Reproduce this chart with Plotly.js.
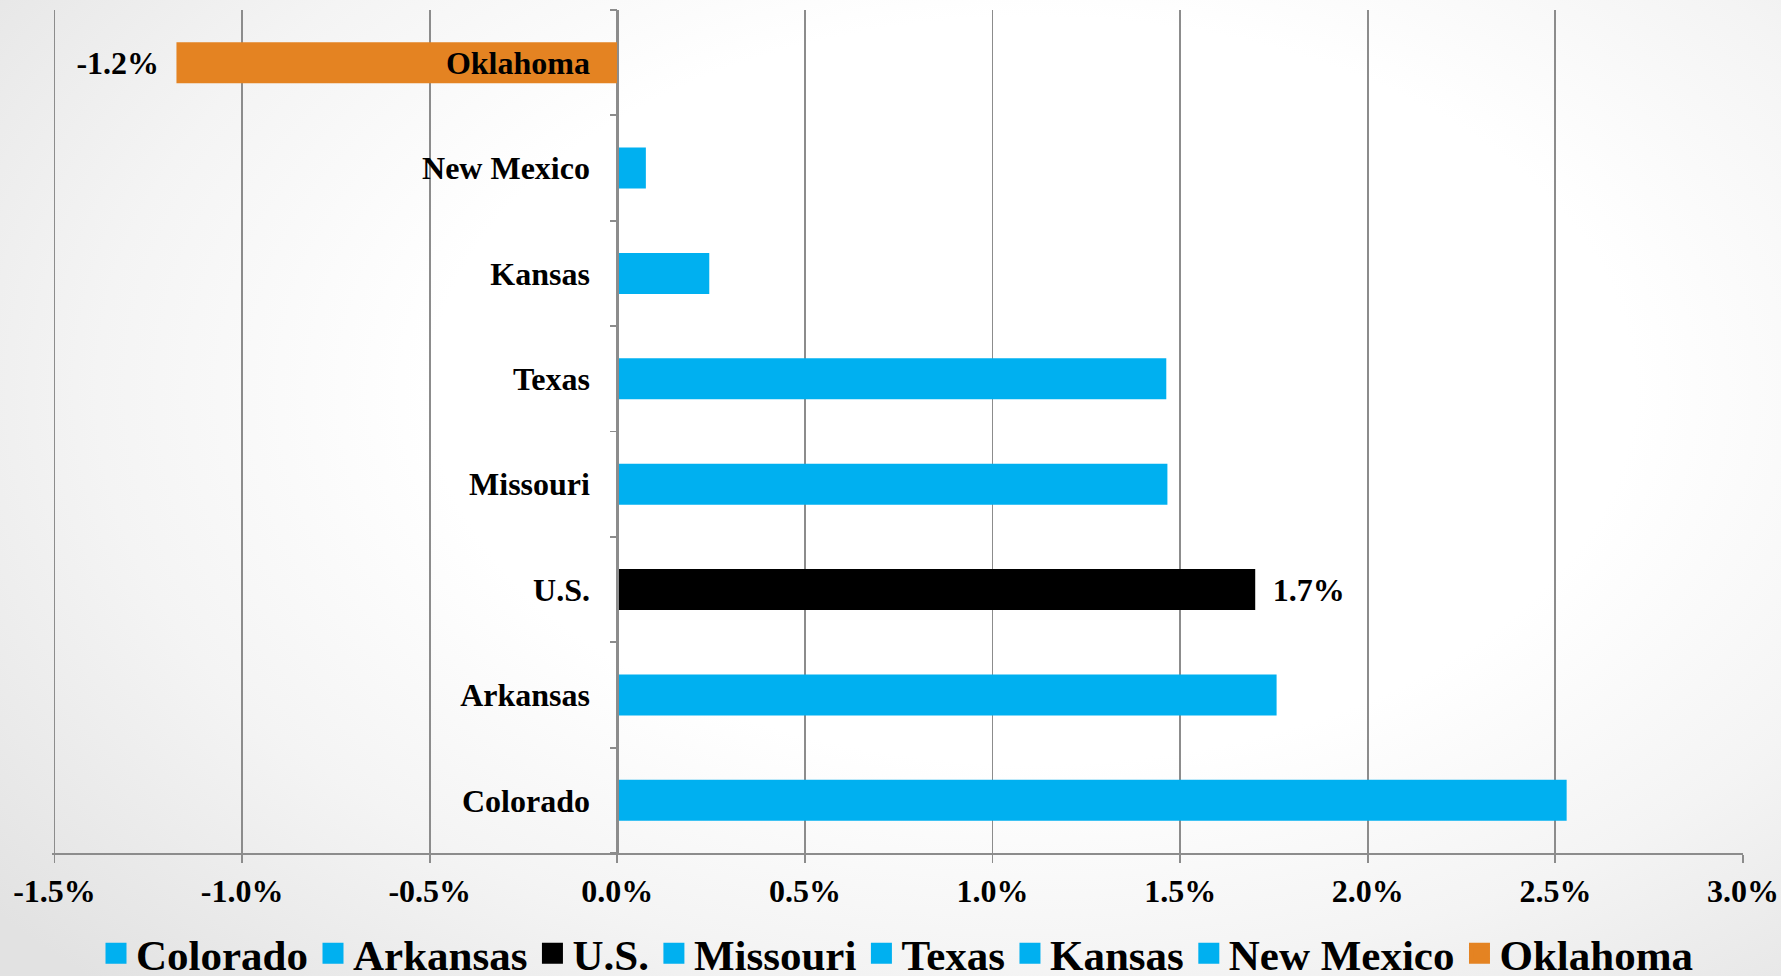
<!DOCTYPE html>
<html>
<head>
<meta charset="utf-8">
<script src="https://cdn.plot.ly/plotly-3.0.1.min.js"></script>
<style>
  html, body { margin: 0; padding: 0; width: 1781px; height: 976px; overflow: hidden; }
  body { background: radial-gradient(ellipse 75% 85% at 58% 40%, #ffffff 45%, #f4f4f4 70%, #e2e2e2 100%); }
  #chart { width: 1781px; height: 976px; }
</style>
</head>
<body>
<div id="chart"></div>
<script>
// Data (bottom to top, same order as the legend)
const states = ['Colorado', 'Arkansas', 'U.S.', 'Missouri', 'Texas', 'Kansas', 'New Mexico', 'Oklahoma'];
const growth = [2.53, 1.757, 1.70, 1.466, 1.463, 0.245, 0.076, -1.175];
const barLabels = ['', '', '1.7%', '', '', '', '', '-1.2%'];
const colors = ['#00B0F0', '#00B0F0', '#000000', '#00B0F0', '#00B0F0', '#00B0F0', '#00B0F0', '#E48322'];
const xTickVals = [-1.5, -1.0, -0.5, 0.0, 0.5, 1.0, 1.5, 2.0, 2.5, 3.0];
const xTickText = ['-1.5%', '-1.0%', '-0.5%', '0.0%', '0.5%', '1.0%', '1.5%', '2.0%', '2.5%', '3.0%'];

const serif = 'Liberation Serif, Times New Roman, serif';
const NB = '\u00a0\u2009';
const xMin = -1.5067, xMax = 3.0;

const traces = [];
states.forEach((s, i) => {
  const lbl = barLabels[i];
  traces.push({
    type: 'bar',
    orientation: 'h',
    name: s,
    x: [growth[i]],
    y: [s],
    width: 0.39,
    marker: { color: colors[i] },
    text: [lbl ? (growth[i] < 0 ? lbl + NB : NB + lbl) : ''],
    textposition: 'outside',
    cliponaxis: false,
    textfont: { family: serif, size: 32, weight: 'bold', color: '#000' },
    showlegend: false,
    hoverinfo: 'x+y'
  });
});
// legend entries (square swatches)
states.forEach((s, i) => {
  traces.push({
    type: 'scatter',
    mode: 'markers',
    name: s,
    x: [null],
    y: [null],
    marker: { symbol: 'square', size: 16, color: colors[i], line: { color: colors[i], width: 5 } },
    showlegend: true,
    hoverinfo: 'skip'
  });
});

const layout = {
  width: 1781,
  height: 976,
  paper_bgcolor: 'rgba(0,0,0,0)',
  plot_bgcolor: 'rgba(0,0,0,0)',
  margin: { l: 52, r: 38, t: 10, b: 123, autoexpand: false },
  barmode: 'relative',
  font: { family: serif, color: '#000' },
  xaxis: {
    range: [xMin, xMax],
    tickvals: xTickVals,
    ticktext: xTickText,
    showgrid: true,
    gridcolor: '#8c8c8c',
    gridwidth: 1.8,
    zeroline: false,
    showline: true,
    linecolor: '#8c8c8c',
    linewidth: 2,
    ticks: 'outside',
    ticklen: 8,
    tickwidth: 1.8,
    tickcolor: '#8c8c8c',
    ticklabelstandoff: 1,
    tickfont: { family: serif, size: 32, weight: 'bold', color: '#000' },
    fixedrange: true
  },
  yaxis: {
    type: 'category',
    categoryorder: 'array',
    categoryarray: states,
    anchor: 'free',
    position: (0 - xMin) / (xMax - xMin),
    showgrid: false,
    zeroline: false,
    showline: true,
    linecolor: '#8c8c8c',
    linewidth: 1.8,
    ticks: 'outside',
    tickson: 'boundaries',
    ticklen: 7,
    tickwidth: 1.8,
    tickcolor: '#8c8c8c',
    ticklabelstandoff: 21,
    tickfont: { family: serif, size: 32, weight: 'bold', color: '#000' },
    fixedrange: true
  },
  showlegend: true,
  legend: {
    orientation: 'h',
    x: 0.5,
    xanchor: 'center',
    y: -0.078,
    yanchor: 'top',
    font: { family: serif, size: 43, weight: 'bold', color: '#000' },
    bgcolor: 'rgba(0,0,0,0)',
    itemclick: false,
    itemdoubleclick: false,
    tracegroupgap: 0
  }
};

Plotly.newPlot('chart', traces, layout, { displayModeBar: false, staticPlot: true });
</script>
</body>
</html>
